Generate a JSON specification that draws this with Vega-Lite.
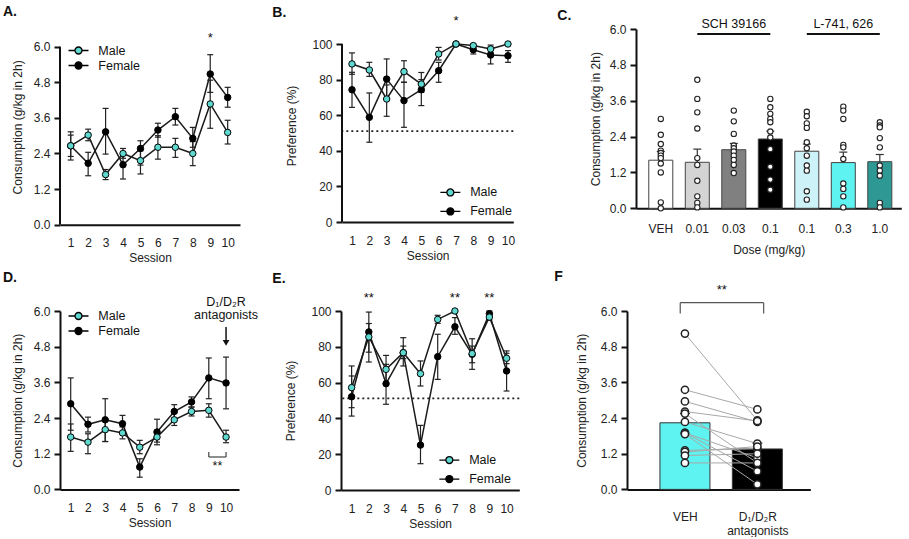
{
"$schema": "https://vega.github.io/schema/vega-lite/v6.json",
"background": "white",
"padding": {"left": 3, "top": 5, "right": 0, "bottom": 0},
"spacing": 6,
"config": {
  "font": "Liberation Sans",
  "view": {"stroke": null},
  "axis": {"grid": false, "domainColor": "#111", "tickColor": "#111", "labelColor": "#222", "titleColor": "#222", "labelFontSize": 12, "titleFontSize": 12, "titleFontWeight": "normal", "domainWidth": 2, "tickWidth": 2, "labelFont": "Liberation Sans", "titleFont": "Liberation Sans", "labelOverlap": false, "labelFlush": false, "labelBound": false},
  "axisY": {"tickSize": 6, "labelPadding": 4, "titlePadding": 9},
  "axisX": {"ticks": false, "tickSize": 0, "labelPadding": 13, "titlePadding": 4, "labelAngle": 0},
  "title": {"fontSize": 14, "fontWeight": "bold", "anchor": "start", "frame": "group", "color": "#111"},
  "text": {"font": "Liberation Sans"}
},
"datasets": {
  "A": [
    {"s":1,"sex":"Female","m":2.66,"lo":2.18,"hi":3.13},{"s":2,"sex":"Female","m":2.07,"lo":1.65,"hi":2.44},{"s":3,"sex":"Female","m":3.13,"lo":2.38,"hi":3.92},{"s":4,"sex":"Female","m":2.02,"lo":1.54,"hi":2.38},{"s":5,"sex":"Female","m":2.57,"lo":2.01,"hi":2.83},{"s":6,"sex":"Female","m":3.19,"lo":2.95,"hi":3.42},{"s":7,"sex":"Female","m":3.64,"lo":3.36,"hi":3.92},{"s":8,"sex":"Female","m":2.91,"lo":2.61,"hi":3.28},{"s":9,"sex":"Female","m":5.08,"lo":4.46,"hi":5.73},{"s":10,"sex":"Female","m":4.29,"lo":3.96,"hi":4.63},
    {"s":1,"sex":"Male","m":2.66,"lo":2.30,"hi":3.02},{"s":2,"sex":"Male","m":3.02,"lo":2.83,"hi":3.22},{"s":3,"sex":"Male","m":1.69,"lo":1.52,"hi":1.86},{"s":4,"sex":"Male","m":2.40,"lo":2.24,"hi":2.57},{"s":5,"sex":"Male","m":2.16,"lo":1.71,"hi":2.49},{"s":6,"sex":"Male","m":2.61,"lo":2.21,"hi":3.00},{"s":7,"sex":"Male","m":2.61,"lo":2.27,"hi":2.91},{"s":8,"sex":"Male","m":2.40,"lo":1.99,"hi":2.80},{"s":9,"sex":"Male","m":4.07,"lo":3.25,"hi":4.87},{"s":10,"sex":"Male","m":3.11,"lo":2.72,"hi":3.52}
  ],
  "B": [
    {"s":1,"sex":"Female","m":74.3,"lo":64.4,"hi":84.1},{"s":2,"sex":"Female","m":58.8,"lo":44.8,"hi":72.5},{"s":3,"sex":"Female","m":80.3,"lo":69.0,"hi":91.6},{"s":4,"sex":"Female","m":68.2,"lo":53.2,"hi":78.5},{"s":5,"sex":"Female","m":74.3,"lo":65.4,"hi":80.0},{"s":6,"sex":"Female","m":85.0,"lo":78.5,"hi":89.7},{"s":7,"sex":"Female","m":100,"lo":100,"hi":100},{"s":8,"sex":"Female","m":96.8,"lo":94.4,"hi":98.5},{"s":9,"sex":"Female","m":93.8,"lo":88.8,"hi":98.1},{"s":10,"sex":"Female","m":93.4,"lo":89.7,"hi":96.3},
    {"s":1,"sex":"Male","m":88.8,"lo":83.0,"hi":95.0},{"s":2,"sex":"Male","m":85.4,"lo":81.8,"hi":89.7},{"s":3,"sex":"Male","m":69.1,"lo":59.4,"hi":77.0},{"s":4,"sex":"Male","m":84.5,"lo":78.5,"hi":90.6},{"s":5,"sex":"Male","m":77.5,"lo":72.8,"hi":84.0},{"s":6,"sex":"Male","m":94.4,"lo":91.0,"hi":98.1},{"s":7,"sex":"Male","m":100,"lo":100,"hi":100},{"s":8,"sex":"Male","m":99.1,"lo":98.0,"hi":100},{"s":9,"sex":"Male","m":97.2,"lo":95.3,"hi":99.4},{"s":10,"sex":"Male","m":100,"lo":100,"hi":100}
  ],
  "D": [
    {"s":1,"sex":"Female","m":2.88,"lo":1.99,"hi":3.75},{"s":2,"sex":"Female","m":2.19,"lo":1.93,"hi":2.43},{"s":3,"sex":"Female","m":2.34,"lo":1.61,"hi":3.05},{"s":4,"sex":"Female","m":2.21,"lo":1.93,"hi":2.49},{"s":5,"sex":"Female","m":0.75,"lo":0.41,"hi":1.03},{"s":6,"sex":"Female","m":1.93,"lo":1.50,"hi":2.36},{"s":7,"sex":"Female","m":2.62,"lo":2.40,"hi":2.85},{"s":8,"sex":"Female","m":2.94,"lo":2.77,"hi":3.11},{"s":9,"sex":"Female","m":3.75,"lo":3.05,"hi":4.42},{"s":10,"sex":"Female","m":3.58,"lo":2.71,"hi":4.45},
    {"s":1,"sex":"Male","m":1.76,"lo":1.28,"hi":2.20},{"s":2,"sex":"Male","m":1.59,"lo":1.20,"hi":1.87},{"s":3,"sex":"Male","m":2.01,"lo":1.61,"hi":2.32},{"s":4,"sex":"Male","m":1.90,"lo":1.70,"hi":2.10},{"s":5,"sex":"Male","m":1.42,"lo":1.20,"hi":1.65},{"s":6,"sex":"Male","m":1.76,"lo":1.59,"hi":1.93},{"s":7,"sex":"Male","m":2.34,"lo":2.15,"hi":2.60},{"s":8,"sex":"Male","m":2.62,"lo":2.47,"hi":2.77},{"s":9,"sex":"Male","m":2.66,"lo":2.43,"hi":2.88},{"s":10,"sex":"Male","m":1.76,"lo":1.57,"hi":1.99}
  ],
  "E": [
    {"s":1,"sex":"Female","m":52.1,"lo":41.3,"hi":63.7},{"s":2,"sex":"Female","m":88.3,"lo":71.5,"hi":99.4},{"s":3,"sex":"Female","m":59.4,"lo":47.9,"hi":70.2},{"s":4,"sex":"Female","m":76.7,"lo":69.3,"hi":85.1},{"s":5,"sex":"Female","m":25.1,"lo":14.7,"hi":36.1},{"s":6,"sex":"Female","m":74.5,"lo":61.8,"hi":87.0},{"s":7,"sex":"Female","m":91.2,"lo":87.0,"hi":96.3},{"s":8,"sex":"Female","m":75.8,"lo":67.4,"hi":84.5},{"s":9,"sex":"Female","m":98.5,"lo":97.2,"hi":100},{"s":10,"sex":"Female","m":66.5,"lo":55.3,"hi":77.7},
    {"s":1,"sex":"Male","m":57.2,"lo":46.0,"hi":69.3},{"s":2,"sex":"Male","m":85.5,"lo":77.0,"hi":93.0},{"s":3,"sex":"Male","m":67.4,"lo":60.0,"hi":75.2},{"s":4,"sex":"Male","m":76.7,"lo":73.4,"hi":80.4},{"s":5,"sex":"Male","m":65.0,"lo":58.1,"hi":72.1},{"s":6,"sex":"Male","m":95.3,"lo":93.1,"hi":97.6},{"s":7,"sex":"Male","m":100,"lo":100,"hi":100},{"s":8,"sex":"Male","m":76.2,"lo":71.1,"hi":80.4},{"s":9,"sex":"Male","m":96.6,"lo":95.0,"hi":98.1},{"s":10,"sex":"Male","m":73.6,"lo":70.6,"hi":76.4}
  ],
  "annA": [{"s":9,"y":6.28,"t":"*"}],
  "annB": [{"s":7,"y":113,"t":"*"}],
  "annE": [{"s":2,"y":107.4,"t":"**"},{"s":7,"y":107.4,"t":"**"},{"s":9,"y":107.4,"t":"**"}],
  "annD": [{"s":10,"y":6.30,"t":"D₁/D₂R"},{"s":10,"y":5.85,"t":"antagonists"},{"s":9.5,"y":0.80,"t":"**"}],
  "arrowD": [{"s":10,"y":5.46,"y2":4.97}],
  "headD": [{"s":10,"y":4.93}],
  "bracketD": [{"s":9,"s2":10,"y":1.09,"y2":1.09},{"s":9,"s2":9,"y":1.09,"y2":1.26},{"s":10,"s2":10,"y":1.09,"y2":1.26}],
  "axisLineA": [{"x":0.386,"y":0,"y2":6}],
  "axisLineB": [{"x":0.423,"y":0,"y2":100}],
  "Cbars": [{"d":"VEH","m":1.61,"hi":1.90},{"d":"S0.01","m":1.54,"hi":1.98},{"d":"S0.03","m":1.96,"hi":2.17},{"d":"S0.1","m":2.32,"hi":2.58},{"d":"L0.1","m":1.91,"hi":2.15},{"d":"L0.3","m":1.53,"hi":1.88},{"d":"L1.0","m":1.56,"hi":1.80}],
  "Cdots": [
    {"d":"VEH","v":2.99},{"d":"VEH","v":2.46},{"d":"VEH","v":2.15},{"d":"VEH","v":1.93},{"d":"VEH","v":1.85},{"d":"VEH","v":1.76},{"d":"VEH","v":1.68},{"d":"VEH","v":1.50},{"d":"VEH","v":1.20},{"d":"VEH","v":0.20},{"d":"VEH","v":0.0},
    {"d":"S0.01","v":4.30},{"d":"S0.01","v":3.66},{"d":"S0.01","v":3.21},{"d":"S0.01","v":2.67},{"d":"S0.01","v":1.68},{"d":"S0.01","v":1.45},{"d":"S0.01","v":0.92},{"d":"S0.01","v":0.40},{"d":"S0.01","v":0.18},{"d":"S0.01","v":0.03},
    {"d":"S0.03","v":3.27},{"d":"S0.03","v":2.91},{"d":"S0.03","v":2.49},{"d":"S0.03","v":2.10},{"d":"S0.03","v":2.01},{"d":"S0.03","v":1.90},{"d":"S0.03","v":1.76},{"d":"S0.03","v":1.62},{"d":"S0.03","v":1.45},{"d":"S0.03","v":1.18},
    {"d":"S0.1","v":3.66},{"d":"S0.1","v":3.38},{"d":"S0.1","v":3.16},{"d":"S0.1","v":2.99},{"d":"S0.1","v":2.88},{"d":"S0.1","v":2.57},{"d":"S0.1","v":2.37},{"d":"S0.1","v":1.98},{"d":"S0.1","v":1.39},{"d":"S0.1","v":0.96},{"d":"S0.1","v":0.62},
    {"d":"L0.1","v":3.23},{"d":"L0.1","v":3.08},{"d":"L0.1","v":2.84},{"d":"L0.1","v":2.69},{"d":"L0.1","v":2.21},{"d":"L0.1","v":2.01},{"d":"L0.1","v":1.76},{"d":"L0.1","v":1.43},{"d":"L0.1","v":1.26},{"d":"L0.1","v":0.57},{"d":"L0.1","v":0.29},
    {"d":"L0.3","v":3.40},{"d":"L0.3","v":3.27},{"d":"L0.3","v":2.99},{"d":"L0.3","v":2.12},{"d":"L0.3","v":2.04},{"d":"L0.3","v":1.65},{"d":"L0.3","v":0.83},{"d":"L0.3","v":0.65},{"d":"L0.3","v":0.40},{"d":"L0.3","v":0.03},
    {"d":"L1.0","v":2.88},{"d":"L1.0","v":2.77},{"d":"L1.0","v":2.71},{"d":"L1.0","v":2.35},{"d":"L1.0","v":2.04},{"d":"L1.0","v":1.43},{"d":"L1.0","v":1.26},{"d":"L1.0","v":1.09},{"d":"L1.0","v":0.18},{"d":"L1.0","v":0.03}
  ],
  "Crules": [{"d1":"S0.01","d2":"S0.1","y":5.83},{"d1":"L0.1","d2":"L1.0","y":5.83}],
  "Ctext": [{"d":"S0.03","y":6.17,"t":"SCH 39166"},{"d":"L0.3","y":6.17,"t":"L-741, 626"}],
  "Fbars": [{"x":1,"cond":"VEH","m":2.24,"hi":2.55},{"x":2,"cond":"ANT","m":1.36,"hi":1.56}],
  "Fpairs": [
    {"id":1,"x":1,"v":5.24},{"id":1,"x":2,"v":2.32},
    {"id":2,"x":1,"v":3.35},{"id":2,"x":2,"v":2.69},
    {"id":3,"x":1,"v":2.96},{"id":3,"x":2,"v":2.27},
    {"id":4,"x":1,"v":2.62},{"id":4,"x":2,"v":2.30},
    {"id":5,"x":1,"v":2.55},{"id":5,"x":2,"v":0.89},
    {"id":6,"x":1,"v":2.27},{"id":6,"x":2,"v":1.54},
    {"id":7,"x":1,"v":1.90},{"id":7,"x":2,"v":1.06},
    {"id":8,"x":1,"v":1.90},{"id":8,"x":2,"v":0.61},
    {"id":9,"x":1,"v":1.86},{"id":9,"x":2,"v":0.17},
    {"id":10,"x":1,"v":1.31},{"id":10,"x":2,"v":1.37},
    {"id":11,"x":1,"v":1.26},{"id":11,"x":2,"v":1.44},
    {"id":12,"x":1,"v":1.14},{"id":12,"x":2,"v":1.20},
    {"id":13,"x":1,"v":0.89},{"id":13,"x":2,"v":0.89}
  ],
  "bracketF": [{"x":0.935,"x2":2.087,"y":6.28,"y2":6.28},{"x":0.935,"x2":0.935,"y":6.28,"y2":5.92},{"x":2.087,"x2":2.087,"y":6.28,"y2":5.92}],
  "annF": [{"x":1.51,"y":6.72,"t":"**"}]
},
"resolve": {"scale": {"fill": "independent"}},
"vconcat": [
 {"spacing": 32,
  "resolve": {"scale": {"fill": "independent"}},
  "hconcat": [
   {"width": 180, "height": 195.7,
    "title": {"text": "A.", "dx": -57, "offset": 9.9},
    "layer": [
     {"data": {"name": "A"}, "mark": {"type": "line", "strokeWidth": 1.5, "color": "#1a1a1a"},
      "encoding": {
       "x": {"field": "s", "type": "quantitative", "scale": {"domain": [0.386, 10.707], "nice": false, "zero": false}, "axis": {"title": "Session", "values": [1,2,3,4,5,6,7,8,9,10], "tickCount": 20, "format": "d", "labelOverlap": false}},
       "y": {"field": "m", "type": "quantitative", "scale": {"domain": [0, 6.596], "nice": false}, "axis": {"title": "Consumption (g/kg in 2h)", "domain": false, "values": [0,1.2,2.4,3.6,4.8,6], "tickCount": 20, "format": ".1f", "labelOverlap": false}},
       "detail": {"field": "sex", "type": "nominal"}}},
     {"data": {"name": "axisLineA"}, "mark": {"type": "rule", "color": "#111", "strokeWidth": 2},
      "encoding": {"x": {"field": "x", "type": "quantitative"}, "y": {"field": "y", "type": "quantitative"}, "y2": {"field": "y2"}}},
     {"data": {"name": "A"}, "mark": {"type": "rule", "color": "#222", "strokeWidth": 1.2},
      "encoding": {"x": {"field": "s", "type": "quantitative"}, "y": {"field": "lo", "type": "quantitative"}, "y2": {"field": "hi"}}},
     {"data": {"name": "A"}, "mark": {"type": "tick", "orient": "horizontal", "size": 6, "thickness": 1.2, "color": "#222", "opacity": 1},
      "encoding": {"x": {"field": "s", "type": "quantitative"}, "y": {"field": "lo", "type": "quantitative"}}},
     {"data": {"name": "A"}, "mark": {"type": "tick", "orient": "horizontal", "size": 6, "thickness": 1.2, "color": "#222", "opacity": 1},
      "encoding": {"x": {"field": "s", "type": "quantitative"}, "y": {"field": "hi", "type": "quantitative"}}},
     {"data": {"name": "A"}, "mark": {"type": "circle", "size": 42, "stroke": "#000", "strokeWidth": 1, "opacity": 1},
      "encoding": {"x": {"field": "s", "type": "quantitative"}, "y": {"field": "m", "type": "quantitative"},
       "fill": {"field": "sex", "type": "nominal", "scale": {"domain": ["Male","Female"], "range": ["#5fd8d0","#000000"]},
        "legend": {"title": null, "orient": "none", "legendX": 11.5, "legendY": 14.5, "padding": 0, "rowPadding": 1, "symbolType": "M-1.6,0L-0.56,0M0.56,0L1.6,0M0.56,0A0.56,0.56,0,1,1,-0.56,0A0.56,0.56,0,1,1,0.56,0Z", "symbolSize": 156, "symbolStrokeColor": "#000", "symbolStrokeWidth": 1.3, "symbolOpacity": 1, "labelOffset": 12.8, "labelFontSize": 12.5, "labelColor": "#111"}}}},
     {"data": {"name": "annA"}, "mark": {"type": "text", "fontSize": 13, "color": "#111"},
      "encoding": {"x": {"field": "s", "type": "quantitative"}, "y": {"field": "y", "type": "quantitative"}, "text": {"field": "t"}}}
    ]},
   {"width": 171.3, "height": 193,
    "title": {"text": "B.", "dx": -69.7, "offset": -5.6},
    "layer": [
     {"data": {"values": [{"y": 51}]}, "mark": {"type": "rule", "strokeDash": [2, 3], "strokeWidth": 1.8, "color": "#222"},
      "encoding": {"y": {"field": "y", "type": "quantitative"}}},
     {"data": {"name": "B"}, "mark": {"type": "line", "strokeWidth": 1.5, "color": "#1a1a1a"},
      "encoding": {
       "x": {"field": "s", "type": "quantitative", "scale": {"domain": [0.423, 10.308], "nice": false, "zero": false}, "axis": {"title": "Session", "values": [1,2,3,4,5,6,7,8,9,10], "tickCount": 20, "format": "d", "labelOverlap": false}},
       "y": {"field": "m", "type": "quantitative", "scale": {"domain": [0, 108.43], "nice": false}, "axis": {"title": "Preference (%)", "domain": false, "values": [0,20,40,60,80,100], "tickCount": 20, "format": "d", "titlePadding": 13, "labelOverlap": false}},
       "detail": {"field": "sex", "type": "nominal"}}},
     {"data": {"name": "axisLineB"}, "mark": {"type": "rule", "color": "#111", "strokeWidth": 2},
      "encoding": {"x": {"field": "x", "type": "quantitative"}, "y": {"field": "y", "type": "quantitative"}, "y2": {"field": "y2"}}},
     {"data": {"name": "B"}, "mark": {"type": "rule", "color": "#222", "strokeWidth": 1.2},
      "encoding": {"x": {"field": "s", "type": "quantitative"}, "y": {"field": "lo", "type": "quantitative"}, "y2": {"field": "hi"}}},
     {"data": {"name": "B"}, "mark": {"type": "tick", "orient": "horizontal", "size": 6, "thickness": 1.2, "color": "#222", "opacity": 1},
      "encoding": {"x": {"field": "s", "type": "quantitative"}, "y": {"field": "lo", "type": "quantitative"}}},
     {"data": {"name": "B"}, "mark": {"type": "tick", "orient": "horizontal", "size": 6, "thickness": 1.2, "color": "#222", "opacity": 1},
      "encoding": {"x": {"field": "s", "type": "quantitative"}, "y": {"field": "hi", "type": "quantitative"}}},
     {"data": {"name": "B"}, "mark": {"type": "circle", "size": 42, "stroke": "#000", "strokeWidth": 1, "opacity": 1},
      "encoding": {"x": {"field": "s", "type": "quantitative"}, "y": {"field": "m", "type": "quantitative"},
       "fill": {"field": "sex", "type": "nominal", "scale": {"domain": ["Male","Female"], "range": ["#5fd8d0","#000000"]},
        "legend": {"title": null, "orient": "none", "legendX": 88.85, "legendY": 143.95, "padding": 12.5, "rowPadding": 5, "symbolType": "M-1.6,0L-0.56,0M0.56,0L1.6,0M0.56,0A0.56,0.56,0,1,1,-0.56,0A0.56,0.56,0,1,1,0.56,0Z", "symbolSize": 156, "symbolStrokeColor": "#000", "symbolStrokeWidth": 1.3, "symbolOpacity": 1, "labelOffset": 12.8, "labelFontSize": 12.5, "labelColor": "#111"}}}},
     {"data": {"name": "annB"}, "mark": {"type": "text", "fontSize": 13, "color": "#111"},
      "encoding": {"x": {"field": "s", "type": "quantitative"}, "y": {"field": "y", "type": "quantitative"}, "text": {"field": "t"}}}
    ]},
   {"width": 265.3, "height": 179.3,
    "title": {"text": "C.", "dx": -78.7, "offset": -5.4},
    "layer": [
     {"data": {"name": "Cbars"}, "mark": {"type": "bar", "stroke": "#444", "strokeWidth": 1},
      "encoding": {
       "x": {"field": "d", "type": "nominal", "scale": {"domain": ["VEH","S0.01","S0.03","S0.1","L0.1","L0.3","L1.0"], "paddingInner": 0.342, "paddingOuter": 0.305, "align": 0.574},
             "axis": {"title": "Dose (mg/kg)", "labelPadding": 15, "titlePadding": 10, "labelExpr": "datum.value == 'VEH' ? 'VEH' : substring(datum.value, 1)"}},
       "y": {"field": "m", "type": "quantitative", "scale": {"domain": [0, 6], "nice": false}, "axis": {"title": "Consumption (g/kg in 2h)", "values": [0,1.2,2.4,3.6,4.8,6], "tickCount": 20, "format": ".1f", "titlePadding": 7, "labelOverlap": false}},
       "fill": {"field": "d", "type": "nominal", "scale": {"domain": ["VEH","S0.01","S0.03","S0.1","L0.1","L0.3","L1.0"], "range": ["#ffffff","#d4d4d4","#808080","#000000","#cdf2f8","#5ef2f0","#2e9994"]}, "legend": null}}},
     {"data": {"name": "Cbars"}, "mark": {"type": "rule", "color": "#333", "strokeWidth": 1.2},
      "encoding": {"x": {"field": "d", "type": "nominal"}, "y": {"field": "m", "type": "quantitative"}, "y2": {"field": "hi"}}},
     {"data": {"name": "Cbars"}, "mark": {"type": "tick", "orient": "horizontal", "size": 8, "thickness": 1.2, "color": "#333", "opacity": 1},
      "encoding": {"x": {"field": "d", "type": "nominal"}, "y": {"field": "hi", "type": "quantitative"}}},
     {"data": {"name": "Cdots"}, "mark": {"type": "circle", "size": 28, "fill": "#ffffff", "stroke": "#222", "strokeWidth": 1.1, "opacity": 1},
      "encoding": {"x": {"field": "d", "type": "nominal"}, "y": {"field": "v", "type": "quantitative"}}},
     {"data": {"name": "Crules"}, "mark": {"type": "rule", "color": "#111", "strokeWidth": 2},
      "encoding": {"x": {"field": "d1", "type": "nominal"}, "x2": {"field": "d2"}, "y": {"field": "y", "type": "quantitative"}}},
     {"data": {"name": "Ctext"}, "mark": {"type": "text", "fontSize": 12.5, "color": "#111"},
      "encoding": {"x": {"field": "d", "type": "nominal"}, "y": {"field": "y", "type": "quantitative"}, "text": {"field": "t"}}}
    ]}
  ]},
 {"spacing": 13,
  "resolve": {"scale": {"fill": "independent"}},
  "hconcat": [
   {"width": 179, "height": 178.4,
    "title": {"text": "D.", "dx": -57, "offset": 11.1},
    "layer": [
     {"data": {"name": "D"}, "mark": {"type": "line", "strokeWidth": 1.5, "color": "#1a1a1a"},
      "encoding": {
       "x": {"field": "s", "type": "quantitative", "scale": {"domain": [0.38, 10.75], "nice": false, "zero": false}, "axis": {"title": "Session", "values": [1,2,3,4,5,6,7,8,9,10], "tickCount": 20, "format": "d", "labelOverlap": false}},
       "y": {"field": "m", "type": "quantitative", "scale": {"domain": [0, 6], "nice": false}, "axis": {"title": "Consumption (g/kg in 2h)", "values": [0,1.2,2.4,3.6,4.8,6], "tickCount": 20, "format": ".1f", "labelOverlap": false}},
       "detail": {"field": "sex", "type": "nominal"}}},
     {"data": {"name": "D"}, "mark": {"type": "rule", "color": "#222", "strokeWidth": 1.2},
      "encoding": {"x": {"field": "s", "type": "quantitative"}, "y": {"field": "lo", "type": "quantitative"}, "y2": {"field": "hi"}}},
     {"data": {"name": "D"}, "mark": {"type": "tick", "orient": "horizontal", "size": 6, "thickness": 1.2, "color": "#222", "opacity": 1},
      "encoding": {"x": {"field": "s", "type": "quantitative"}, "y": {"field": "lo", "type": "quantitative"}}},
     {"data": {"name": "D"}, "mark": {"type": "tick", "orient": "horizontal", "size": 6, "thickness": 1.2, "color": "#222", "opacity": 1},
      "encoding": {"x": {"field": "s", "type": "quantitative"}, "y": {"field": "hi", "type": "quantitative"}}},
     {"data": {"name": "D"}, "mark": {"type": "circle", "size": 42, "stroke": "#000", "strokeWidth": 1, "opacity": 1},
      "encoding": {"x": {"field": "s", "type": "quantitative"}, "y": {"field": "m", "type": "quantitative"},
       "fill": {"field": "sex", "type": "nominal", "scale": {"domain": ["Male","Female"], "range": ["#5fd8d0","#000000"]},
        "legend": {"title": null, "orient": "none", "legendX": 11.5, "legendY": -2, "padding": 0, "rowPadding": 1, "symbolType": "M-1.6,0L-0.56,0M0.56,0L1.6,0M0.56,0A0.56,0.56,0,1,1,-0.56,0A0.56,0.56,0,1,1,0.56,0Z", "symbolSize": 156, "symbolStrokeColor": "#000", "symbolStrokeWidth": 1.3, "symbolOpacity": 1, "labelOffset": 12.8, "labelFontSize": 12.5, "labelColor": "#111"}}}},
     {"data": {"name": "arrowD"}, "mark": {"type": "rule", "color": "#111", "strokeWidth": 1.5},
      "encoding": {"x": {"field": "s", "type": "quantitative"}, "y": {"field": "y", "type": "quantitative"}, "y2": {"field": "y2"}}},
     {"data": {"name": "headD"}, "mark": {"type": "point", "shape": "triangle-down", "filled": true, "size": 45, "color": "#111", "opacity": 1},
      "encoding": {"x": {"field": "s", "type": "quantitative"}, "y": {"field": "y", "type": "quantitative"}}},
     {"data": {"name": "bracketD"}, "mark": {"type": "rule", "color": "#444", "strokeWidth": 1.2},
      "encoding": {"x": {"field": "s", "type": "quantitative"}, "x2": {"field": "s2"}, "y": {"field": "y", "type": "quantitative"}, "y2": {"field": "y2"}}},
     {"data": {"name": "annD"}, "mark": {"type": "text", "fontSize": 12.5, "color": "#111"},
      "encoding": {"x": {"field": "s", "type": "quantitative"}, "y": {"field": "y", "type": "quantitative"}, "text": {"field": "t"}}}
    ]},
   {"width": 178.3, "height": 179,
    "title": {"text": "E.", "dx": -68.7, "offset": 6},
    "layer": [
     {"data": {"values": [{"y": 51.2}]}, "mark": {"type": "rule", "strokeDash": [2, 3], "strokeWidth": 1.8, "color": "#222"},
      "encoding": {"y": {"field": "y", "type": "quantitative"}}},
     {"data": {"name": "E"}, "mark": {"type": "line", "strokeWidth": 1.5, "color": "#1a1a1a"},
      "encoding": {
       "x": {"field": "s", "type": "quantitative", "scale": {"domain": [0.384, 10.738], "nice": false, "zero": false}, "axis": {"title": "Session", "values": [1,2,3,4,5,6,7,8,9,10], "tickCount": 20, "format": "d", "labelOverlap": false}},
       "y": {"field": "m", "type": "quantitative", "scale": {"domain": [0, 100], "nice": false}, "axis": {"title": "Preference (%)", "values": [0,20,40,60,80,100], "tickCount": 20, "format": "d", "titlePadding": 13, "labelOverlap": false}},
       "detail": {"field": "sex", "type": "nominal"}}},
     {"data": {"name": "E"}, "mark": {"type": "rule", "color": "#222", "strokeWidth": 1.2},
      "encoding": {"x": {"field": "s", "type": "quantitative"}, "y": {"field": "lo", "type": "quantitative"}, "y2": {"field": "hi"}}},
     {"data": {"name": "E"}, "mark": {"type": "tick", "orient": "horizontal", "size": 6, "thickness": 1.2, "color": "#222", "opacity": 1},
      "encoding": {"x": {"field": "s", "type": "quantitative"}, "y": {"field": "lo", "type": "quantitative"}}},
     {"data": {"name": "E"}, "mark": {"type": "tick", "orient": "horizontal", "size": 6, "thickness": 1.2, "color": "#222", "opacity": 1},
      "encoding": {"x": {"field": "s", "type": "quantitative"}, "y": {"field": "hi", "type": "quantitative"}}},
     {"data": {"name": "E"}, "mark": {"type": "circle", "size": 42, "stroke": "#000", "strokeWidth": 1, "opacity": 1},
      "encoding": {"x": {"field": "s", "type": "quantitative"}, "y": {"field": "m", "type": "quantitative"},
       "fill": {"field": "sex", "type": "nominal", "scale": {"domain": ["Male","Female"], "range": ["#5fd8d0","#000000"]},
        "legend": {"title": null, "orient": "none", "legendX": 71.85, "legendY": 112.55, "padding": 29.5, "rowPadding": 5, "symbolType": "M-1.6,0L-0.56,0M0.56,0L1.6,0M0.56,0A0.56,0.56,0,1,1,-0.56,0A0.56,0.56,0,1,1,0.56,0Z", "symbolSize": 156, "symbolStrokeColor": "#000", "symbolStrokeWidth": 1.3, "symbolOpacity": 1, "labelOffset": 12.8, "labelFontSize": 12.5, "labelColor": "#111"}}}},
     {"data": {"name": "annE"}, "mark": {"type": "text", "fontSize": 13, "color": "#111"},
      "encoding": {"x": {"field": "s", "type": "quantitative"}, "y": {"field": "y", "type": "quantitative"}, "text": {"field": "t"}}}
    ]},
   {"width": 183.3, "height": 178.4,
    "title": {"text": "F", "dx": -72.7, "offset": -0.6},
    "layer": [
     {"data": {"name": "Fbars"}, "mark": {"type": "bar", "width": 50, "stroke": "#333", "strokeWidth": 1},
      "encoding": {
       "x": {"field": "x", "type": "quantitative", "scale": {"domain": [0.269, 2.662], "nice": false, "zero": false}, "axis": {"title": null, "values": [1, 2], "tickCount": 20, "labelPadding": 22, "labelLineHeight": 14, "labelOverlap": false, "labelExpr": "datum.value == 1 ? 'VEH' : ['D₁/D₂R', 'antagonists']"}},
       "y": {"field": "m", "type": "quantitative", "scale": {"domain": [0, 6], "nice": false}, "axis": {"title": "Consumption (g/kg in 2h)", "values": [0,1.2,2.4,3.6,4.8,6], "tickCount": 20, "format": ".1f", "titlePadding": 12, "labelOverlap": false}},
       "fill": {"field": "cond", "type": "nominal", "scale": {"domain": ["VEH","ANT"], "range": ["#5ef3f0","#000000"]}, "legend": null}}},
     {"data": {"name": "Fbars"}, "mark": {"type": "rule", "color": "#333", "strokeWidth": 1.2},
      "encoding": {"x": {"field": "x", "type": "quantitative"}, "y": {"field": "m", "type": "quantitative"}, "y2": {"field": "hi"}}},
     {"data": {"name": "Fbars"}, "mark": {"type": "tick", "orient": "horizontal", "size": 10, "thickness": 1.2, "color": "#333", "opacity": 1},
      "encoding": {"x": {"field": "x", "type": "quantitative"}, "y": {"field": "hi", "type": "quantitative"}}},
     {"data": {"name": "Fpairs"}, "mark": {"type": "line", "color": "#a8a8a8", "strokeWidth": 1},
      "encoding": {"x": {"field": "x", "type": "quantitative"}, "y": {"field": "v", "type": "quantitative"}, "detail": {"field": "id", "type": "nominal"}}},
     {"data": {"name": "Fpairs"}, "mark": {"type": "circle", "size": 52, "fill": "#ffffff", "stroke": "#222", "strokeWidth": 1.5, "opacity": 1},
      "encoding": {"x": {"field": "x", "type": "quantitative"}, "y": {"field": "v", "type": "quantitative"}}},
     {"data": {"name": "bracketF"}, "mark": {"type": "rule", "color": "#555", "strokeWidth": 1.2},
      "encoding": {"x": {"field": "x", "type": "quantitative"}, "x2": {"field": "x2"}, "y": {"field": "y", "type": "quantitative"}, "y2": {"field": "y2"}}},
     {"data": {"name": "annF"}, "mark": {"type": "text", "fontSize": 13, "color": "#111"},
      "encoding": {"x": {"field": "x", "type": "quantitative"}, "y": {"field": "y", "type": "quantitative"}, "text": {"field": "t"}}}
    ]}
  ]}
]
}
